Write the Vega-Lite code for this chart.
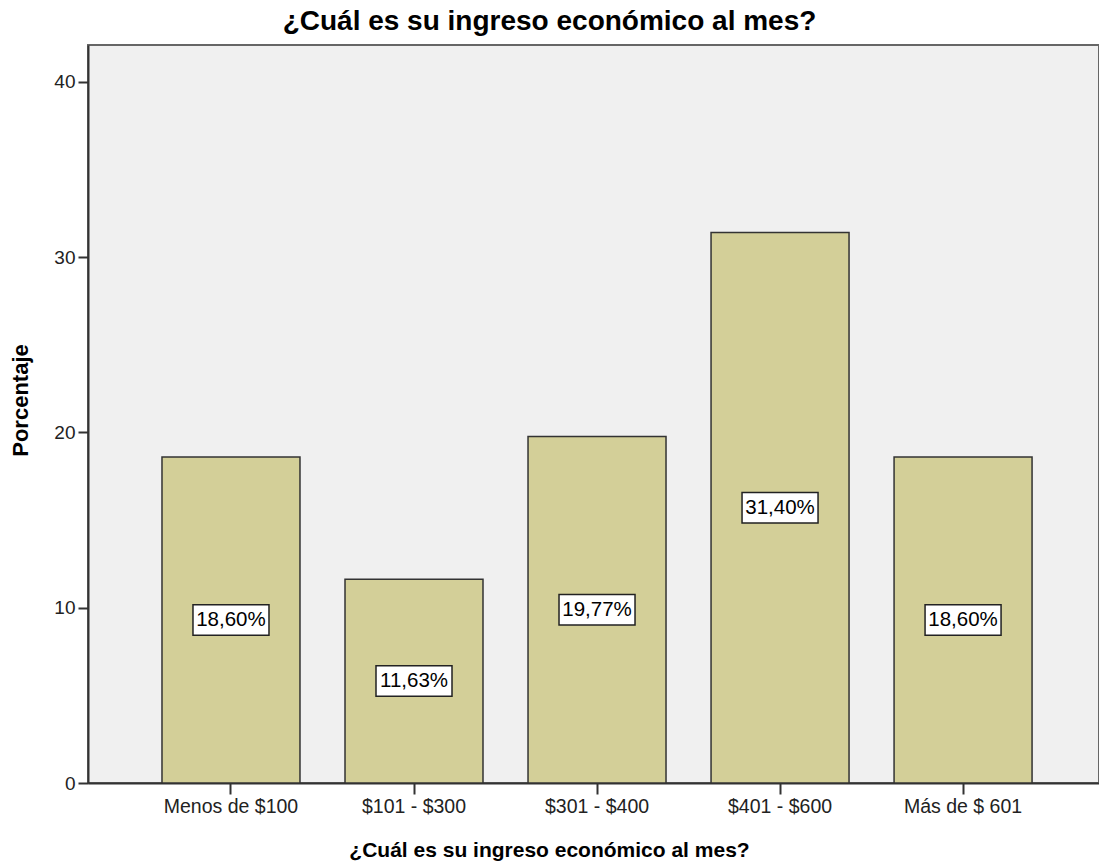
{
  "$schema": "https://vega.github.io/schema/vega-lite/v6.json",
  "width": 1011,
  "height": 738,
  "autosize": {"type": "none"},
  "padding": {"left": 88, "top": 45, "right": 0, "bottom": 82},
  "background": "white",
  "title": {"text": "¿Cuál es su ingreso económico al mes?", "font": "Liberation Sans", "fontSize": 28, "fontWeight": "bold", "color": "#000", "anchor": "middle", "dx": -44, "offset": 9},
  "config": {
    "view": {"fill": "#f0f0f0", "stroke": "#666", "strokeWidth": 2},
    "axis": {"labelFont": "Liberation Sans", "titleFont": "Liberation Sans", "domainColor": "#333", "domainWidth": 2, "tickColor": "#333", "tickWidth": 2, "labelColor": "#222", "titleColor": "#000", "grid": false}
  },
  "data": {"values": [
    {"ingreso": "Menos de $100", "porcentaje": 18.60, "etiqueta": "18,60%"},
    {"ingreso": "$101 - $300", "porcentaje": 11.63, "etiqueta": "11,63%"},
    {"ingreso": "$301 - $400", "porcentaje": 19.77, "etiqueta": "19,77%"},
    {"ingreso": "$401 - $600", "porcentaje": 31.40, "etiqueta": "31,40%"},
    {"ingreso": "Más de $ 601", "porcentaje": 18.60, "etiqueta": "18,60%"}
  ]},
  "encoding": {
    "x": {"field": "ingreso", "type": "nominal", "sort": null,
      "scale": {"paddingInner": 0.246, "paddingOuter": 0.385, "align": 0.525},
      "axis": {"title": "¿Cuál es su ingreso económico al mes?", "labelAngle": 0, "tickSize": 11, "labelFontSize": 19.5, "labelPadding": 3, "titleFontSize": 21, "titleFontWeight": "bold", "titlePadding": 24, "titleX": 461}}
  },
  "layer": [
    {
      "mark": {"type": "bar", "fill": "#d3cf98", "stroke": "#333", "strokeWidth": 1.5},
      "encoding": {
        "y": {"field": "porcentaje", "type": "quantitative", "scale": {"domain": [0, 42.1], "nice": false},
          "axis": {"title": "Porcentaje", "values": [0, 10, 20, 30, 40], "tickSize": 10, "labelFontSize": 19, "labelPadding": 3, "titleFontSize": 22, "titleFontWeight": "bold", "titlePadding": 21, "titleY": 355}}
      }
    },
    {
      "transform": [{"calculate": "datum.porcentaje / 2", "as": "medio"}],
      "mark": {"type": "point", "shape": "M-1,-0.4L1,-0.4L1,0.4L-1,0.4Z", "size": 5776, "filled": true, "fill": "white", "stroke": "#222", "strokeWidth": 1.5, "opacity": 1},
      "encoding": {
        "y": {"field": "medio", "type": "quantitative", "title": "Porcentaje"}
      }
    },
    {
      "transform": [{"calculate": "datum.porcentaje / 2", "as": "medio"}],
      "mark": {"type": "text", "font": "Liberation Sans", "fontSize": 20.5, "color": "#000"},
      "encoding": {
        "y": {"field": "medio", "type": "quantitative", "title": "Porcentaje"},
        "text": {"field": "etiqueta"}
      }
    }
  ]
}
